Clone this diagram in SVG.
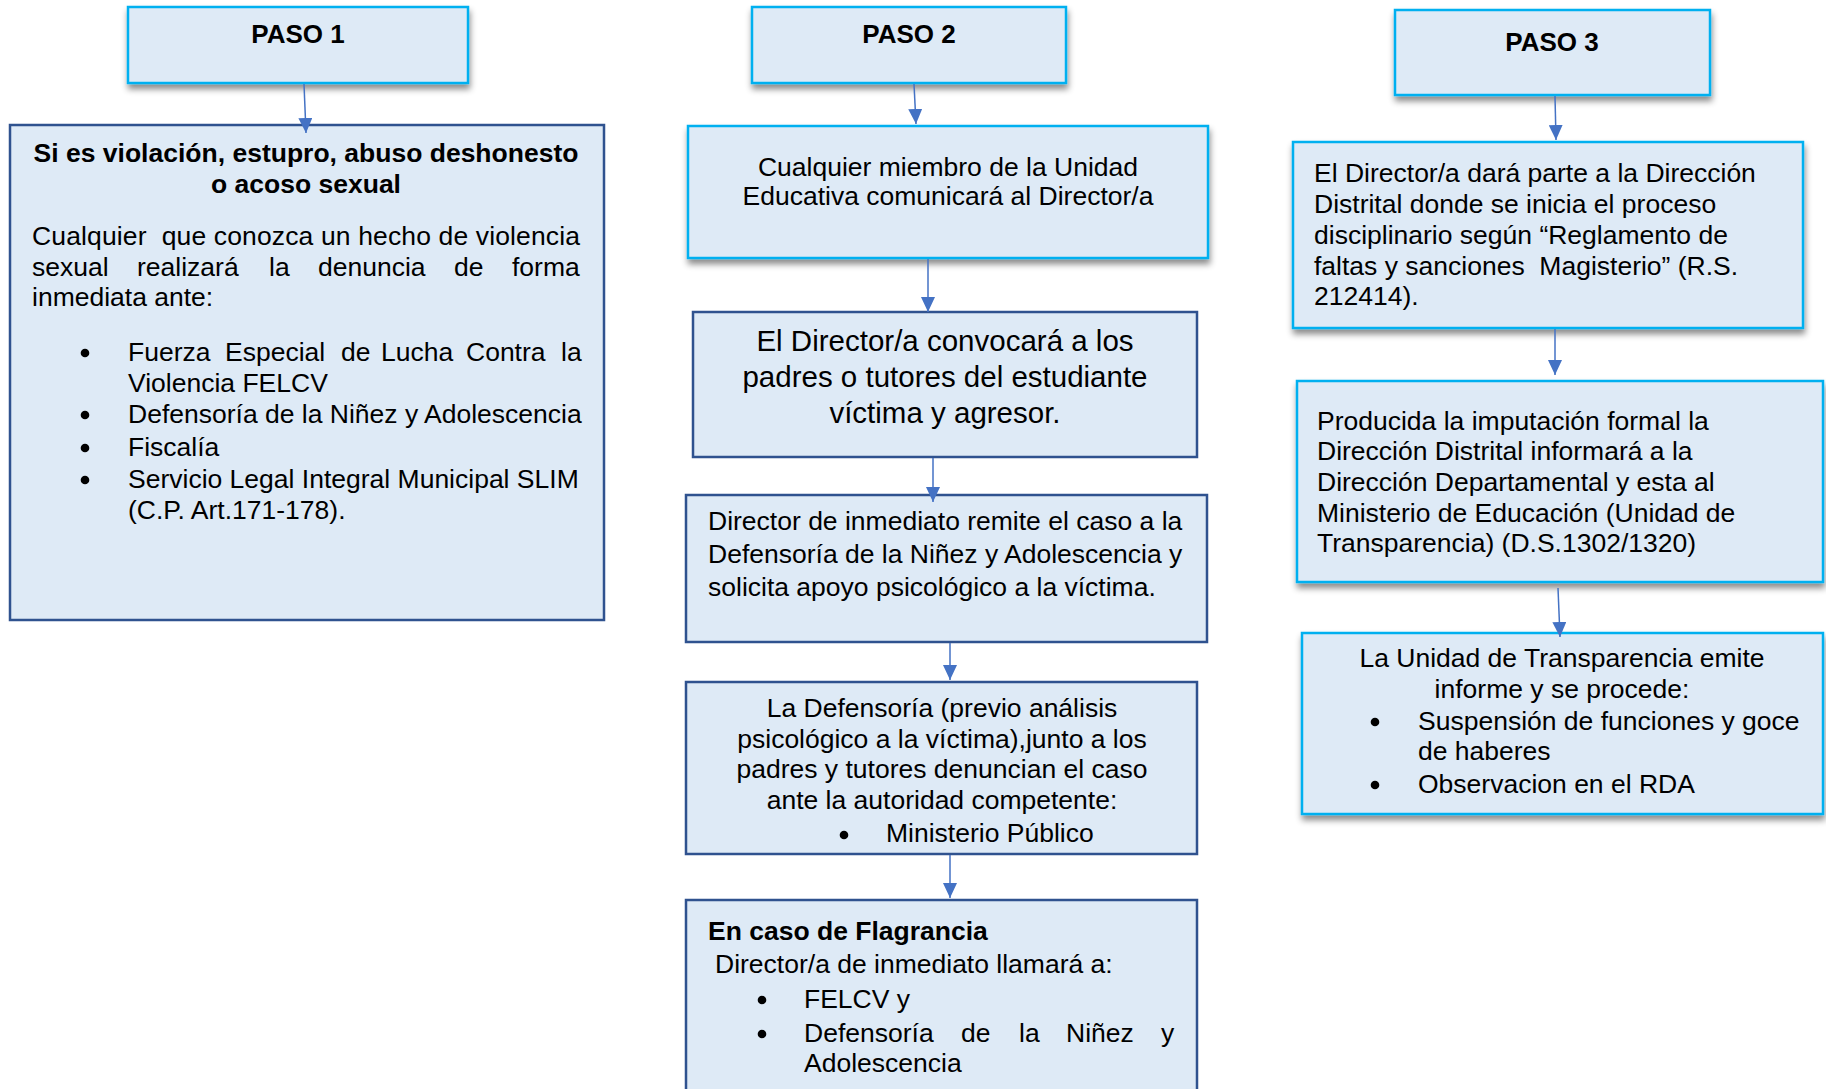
<svg xmlns="http://www.w3.org/2000/svg" width="1826" height="1089" viewBox="0 0 1826 1089">
<style>
text{font-family:"Liberation Sans",Arial,sans-serif;font-size:26.5px;fill:#000}
.b{font-weight:bold}
.c{text-anchor:middle}
.big{font-size:29.5px}
.pre{white-space:pre}
.cy{fill:#DEEAF6;stroke:#00B0F0;stroke-width:2.5}
.db{fill:#DEEAF6;stroke:#2F528F;stroke-width:2.5}
.sh{filter:url(#shadow)}
.conn line{stroke:#4472C4;stroke-width:1.5;fill:none}
.dot{fill:#000}
</style>
<defs>
<filter id="shadow" x="-10%" y="-20%" width="125%" height="150%">
<feDropShadow dx="1" dy="5" stdDeviation="3" flood-color="#000" flood-opacity="0.45"/>
</filter>
<marker id="arr" markerUnits="userSpaceOnUse" markerWidth="15" markerHeight="14" viewBox="0 0 15 14" refX="15" refY="7" orient="auto">
<path d="M0,0 L15,7 L0,14 Z" fill="#4472C4"/>
</marker>
</defs>
<rect width="1826" height="1089" fill="#fff"/>

<g id="paso1">
<rect class="cy sh" x="128" y="7" width="340" height="76"/>
<text class="b c" x="298" y="43" style="font-size:26px">PASO 1</text>
</g>
<g id="paso2">
<rect class="cy sh" x="752" y="7" width="314" height="76"/>
<text class="b c" x="909" y="43" style="font-size:26px">PASO 2</text>
</g>
<g id="paso3">
<rect class="cy sh" x="1395" y="10" width="315" height="85"/>
<text class="b c" x="1552" y="51" style="font-size:26px">PASO 3</text>
</g>

<g id="box1">
<rect class="db" x="10" y="125" width="594" height="495"/>
<text class="b c" x="306" y="162">Si es violación, estupro, abuso deshonesto</text>
<text class="b c" x="306" y="193">o acoso sexual</text>
<text class="pre" x="32" y="245" textLength="548">Cualquier  que conozca un hecho de violencia</text>
<text y="276"><tspan x="32">sexual</tspan><tspan x="137">realizará</tspan><tspan x="269">la</tspan><tspan x="318">denuncia</tspan><tspan x="454">de</tspan><tspan x="512">forma</tspan></text>
<text x="32" y="306">inmediata ante:</text>
<circle class="dot" cx="85" cy="353" r="4.3"/>
<text y="361"><tspan x="128">Fuerza</tspan><tspan x="225">Especial</tspan><tspan x="341">de</tspan><tspan x="381">Lucha</tspan><tspan x="466">Contra</tspan><tspan x="561">la</tspan></text>
<text x="128" y="392">Violencia FELCV</text>
<circle class="dot" cx="85" cy="415" r="4.3"/>
<text x="128" y="423">Defensoría de la Niñez y Adolescencia</text>
<circle class="dot" cx="85" cy="448" r="4.3"/>
<text x="128" y="456">Fiscalía</text>
<circle class="dot" cx="85" cy="480" r="4.3"/>
<text x="128" y="488">Servicio Legal Integral Municipal SLIM</text>
<text x="128" y="519">(C.P. Art.171-178).</text>
</g>

<g id="box2a">
<rect class="cy sh" x="688" y="126" width="520" height="132"/>
<text class="c" x="948" y="176">Cualquier miembro de la Unidad</text>
<text class="c" x="948" y="205">Educativa comunicará al Director/a</text>
</g>
<g id="box2b">
<rect class="db" x="693" y="312" width="504" height="145"/>
<text class="c big" x="945" y="351">El Director/a convocará a los</text>
<text class="c big" x="945" y="387">padres o tutores del estudiante</text>
<text class="c big" x="945" y="423">víctima y agresor.</text>
</g>
<g id="box2c">
<rect class="db" x="686" y="495" width="521" height="147"/>
<text x="708" y="530">Director de inmediato remite el caso a la</text>
<text x="708" y="563">Defensoría de la Niñez y Adolescencia y</text>
<text x="708" y="596">solicita apoyo psicológico a la víctima.</text>
</g>
<g id="box2d">
<rect class="db" x="686" y="682" width="511" height="172"/>
<text class="c" x="942" y="717">La Defensoría (previo análisis</text>
<text class="c" x="942" y="748">psicológico a la víctima),junto a los</text>
<text class="c" x="942" y="778">padres y tutores denuncian el caso</text>
<text class="c" x="942" y="809">ante la autoridad competente:</text>
<circle class="dot" cx="844" cy="835" r="4.3"/>
<text x="886" y="842">Ministerio Público</text>
</g>
<g id="box2e">
<rect class="db" x="686" y="900" width="511" height="200"/>
<text class="b" x="708" y="940">En caso de Flagrancia</text>
<text x="715" y="973">Director/a de inmediato llamará a:</text>
<circle class="dot" cx="762" cy="1000" r="4.3"/>
<text x="804" y="1008">FELCV y</text>
<circle class="dot" cx="762" cy="1034" r="4.3"/>
<text y="1042"><tspan x="804">Defensoría</tspan><tspan x="961">de</tspan><tspan x="1019">la</tspan><tspan x="1066">Niñez</tspan><tspan x="1161">y</tspan></text>
<text x="804" y="1072">Adolescencia</text>
</g>

<g id="box3a">
<rect class="cy sh" x="1293" y="142" width="510" height="186"/>
<text x="1314" y="182">El Director/a dará parte a la Dirección</text>
<text x="1314" y="213">Distrital donde se inicia el proceso</text>
<text x="1314" y="244">disciplinario según “Reglamento de</text>
<text class="pre" x="1314" y="275">faltas y sanciones  Magisterio” (R.S.</text>
<text x="1314" y="305">212414).</text>
</g>
<g id="box3b">
<rect class="cy sh" x="1297" y="381" width="526" height="201"/>
<text x="1317" y="430">Producida la imputación formal la</text>
<text x="1317" y="460">Dirección Distrital informará a la</text>
<text x="1317" y="491">Dirección Departamental y esta al</text>
<text x="1317" y="522">Ministerio de Educación (Unidad de</text>
<text x="1317" y="552">Transparencia) (D.S.1302/1320)</text>
</g>
<g id="box3c">
<rect class="cy sh" x="1302" y="633" width="521" height="181"/>
<text class="c" x="1562" y="667">La Unidad de Transparencia emite</text>
<text class="c" x="1562" y="698">informe y se procede:</text>
<circle class="dot" cx="1375" cy="722" r="4.3"/>
<text x="1418" y="730">Suspensión de funciones y goce</text>
<text x="1418" y="760">de haberes</text>
<circle class="dot" cx="1375" cy="785" r="4.3"/>
<text x="1418" y="793">Observacion en el RDA</text>
</g>

<g class="conn" id="connectors">
<line x1="304" y1="84" x2="306" y2="133" marker-end="url(#arr)"/>
<line x1="914" y1="84" x2="916" y2="124" marker-end="url(#arr)"/>
<line x1="928" y1="259" x2="928" y2="312" marker-end="url(#arr)"/>
<line x1="933" y1="458" x2="933" y2="502" marker-end="url(#arr)"/>
<line x1="950" y1="643" x2="950" y2="680" marker-end="url(#arr)"/>
<line x1="950" y1="855" x2="950" y2="898" marker-end="url(#arr)"/>
<line x1="1555" y1="96" x2="1556" y2="140" marker-end="url(#arr)"/>
<line x1="1555" y1="329" x2="1555" y2="375" marker-end="url(#arr)"/>
<line x1="1558" y1="588" x2="1560" y2="637" marker-end="url(#arr)"/>
</g>
</svg>
